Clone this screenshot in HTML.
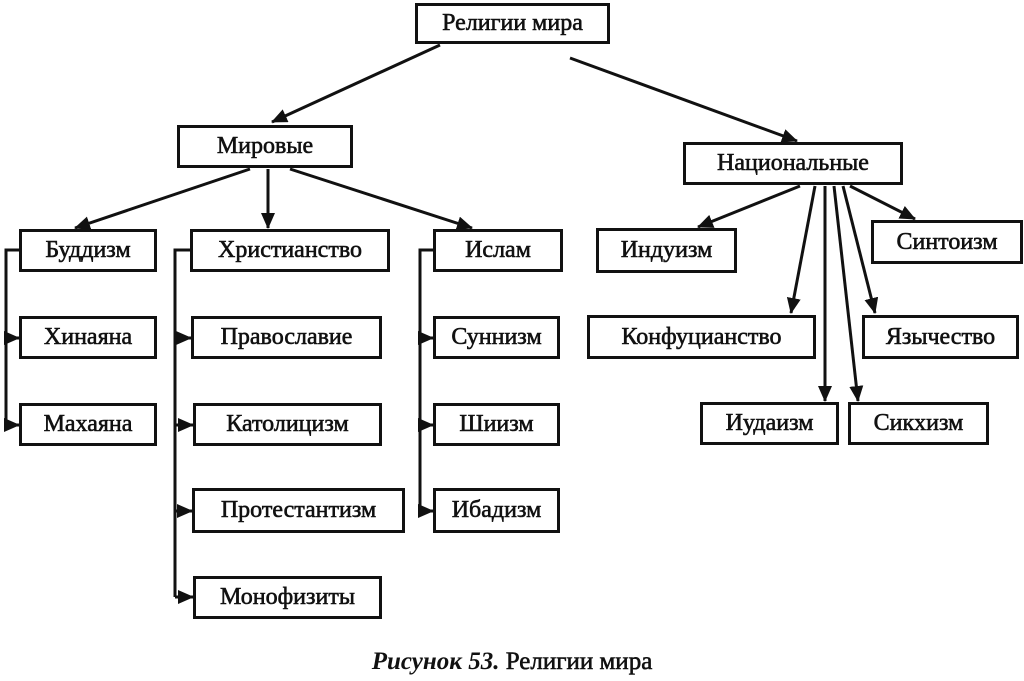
<!DOCTYPE html>
<html><head><meta charset="utf-8"><style>
body{margin:0;background:#fff;}
.wrap{position:relative;width:1024px;height:681px;overflow:hidden;background:#fff;font-family:"Liberation Serif",serif;}
.b{position:absolute;box-sizing:border-box;border:3px solid #111;display:flex;align-items:center;justify-content:center;font-size:24px;color:#111;-webkit-text-stroke:0.6px #111;background:#fff;}
svg{position:absolute;left:0;top:0;}
.cap{position:absolute;left:0;width:1024px;top:648px;text-align:center;font-size:25px;font-weight:bold;color:#111;}
</style></head><body><div class="wrap">
<svg width="1024" height="681">
<defs><marker id="a" markerWidth="10" markerHeight="10" refX="9" refY="5" orient="auto" markerUnits="userSpaceOnUse" viewBox="0 0 10 10"><path d="M0,0 L10,5 L0,10 z" fill="#111"/></marker>
<marker id="h" markerWidth="16" markerHeight="14" refX="15" refY="7" orient="auto" markerUnits="userSpaceOnUse"><path d="M0,0 L16,7 L0,14 z" fill="#111"/></marker></defs>
<g stroke="#111" stroke-width="3" fill="none">
<line x1="440" y1="45" x2="272" y2="122" marker-end="url(#h)"/>
<line x1="570" y1="58" x2="797" y2="141" marker-end="url(#h)"/>
<line x1="250" y1="169" x2="75" y2="228" marker-end="url(#h)"/>
<line x1="268" y1="169" x2="268" y2="228" marker-end="url(#h)"/>
<line x1="290" y1="169" x2="472" y2="228" marker-end="url(#h)"/>
<line x1="800" y1="186" x2="698" y2="227" marker-end="url(#h)"/>
<line x1="815" y1="186" x2="791" y2="313" marker-end="url(#h)"/>
<line x1="825" y1="186" x2="825" y2="401" marker-end="url(#h)"/>
<line x1="834" y1="186" x2="858" y2="401" marker-end="url(#h)"/>
<line x1="843" y1="186" x2="875" y2="313" marker-end="url(#h)"/>
<line x1="850" y1="186" x2="915" y2="219" marker-end="url(#h)"/>
<polyline points="19,250 6,250 6,425"/>
<polyline points="190,250 175,250 175,597"/>
<polyline points="433,250 420,250 420,511"/>
<line x1="6" y1="338" x2="19" y2="338" marker-end="url(#h)"/>
<line x1="6" y1="425" x2="19" y2="425" marker-end="url(#h)"/>
<line x1="175" y1="338" x2="191" y2="338" marker-end="url(#h)"/>
<line x1="175" y1="425" x2="193" y2="425" marker-end="url(#h)"/>
<line x1="175" y1="511" x2="192" y2="511" marker-end="url(#h)"/>
<line x1="175" y1="597" x2="193" y2="597" marker-end="url(#h)"/>
<line x1="420" y1="338" x2="433" y2="338" marker-end="url(#h)"/>
<line x1="420" y1="425" x2="433" y2="425" marker-end="url(#h)"/>
<line x1="420" y1="511" x2="433" y2="511" marker-end="url(#h)"/>
</g></svg>
<div class="b" style="left:415px;top:3px;width:195px;height:41px;">Религии мира</div>
<div class="b" style="left:177px;top:125px;width:176px;height:43px;">Мировые</div>
<div class="b" style="left:683px;top:142px;width:220px;height:43px;">Национальные</div>
<div class="b" style="left:19px;top:229px;width:138px;height:43px;">Буддизм</div>
<div class="b" style="left:190px;top:229px;width:200px;height:43px;">Христианство</div>
<div class="b" style="left:433px;top:229px;width:130px;height:43px;">Ислам</div>
<div class="b" style="left:19px;top:316px;width:138px;height:43px;">Хинаяна</div>
<div class="b" style="left:19px;top:403px;width:138px;height:43px;">Махаяна</div>
<div class="b" style="left:191px;top:316px;width:191px;height:43px;">Православие</div>
<div class="b" style="left:193px;top:403px;width:189px;height:43px;">Католицизм</div>
<div class="b" style="left:192px;top:488px;width:213px;height:45px;">Протестантизм</div>
<div class="b" style="left:193px;top:576px;width:189px;height:43px;">Монофизиты</div>
<div class="b" style="left:433px;top:316px;width:127px;height:43px;">Суннизм</div>
<div class="b" style="left:433px;top:403px;width:127px;height:43px;">Шиизм</div>
<div class="b" style="left:433px;top:488px;width:127px;height:45px;">Ибадизм</div>
<div class="b" style="left:596px;top:228px;width:141px;height:45px;">Индуизм</div>
<div class="b" style="left:871px;top:220px;width:152px;height:44px;">Синтоизм</div>
<div class="b" style="left:587px;top:315px;width:229px;height:44px;">Конфуцианство</div>
<div class="b" style="left:862px;top:315px;width:157px;height:44px;">Язычество</div>
<div class="b" style="left:700px;top:402px;width:139px;height:43px;">Иудаизм</div>
<div class="b" style="left:848px;top:402px;width:141px;height:43px;">Сикхизм</div>
<div class="cap"><i>Рисунок 53.</i> <span style="font-weight:normal;-webkit-text-stroke:0.6px #111">Религии мира</span></div>
</div></body></html>
